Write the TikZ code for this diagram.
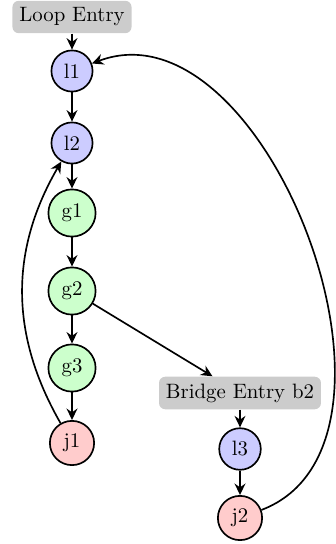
\documentclass[tikz,border=0pt]{standalone}
\usetikzlibrary{arrows.meta}
\begin{document}
\begin{tikzpicture}[x=0.4808pt,y=-0.4808pt,
  state/.style={circle,draw,thick},
  loopstate/.style={state,fill=blue!20},
  guardstate/.style={state,fill=green!20},
  joinstate/.style={state,fill=red!20},
  entry/.style={rectangle,rounded corners=3pt,fill=gray!40},
  flow/.style={thick,-{Stealth[length=5.5pt,width=5.2pt]}}]
\useasboundingbox (0,0) rectangle (335,544);

% main loop column
\node[entry]      (le) at (72,17)  {Loop Entry};
\node[loopstate]  (l1) at (72,71)  {l1};
\node[loopstate]  (l2) at (72,143) {l2};
\node[guardstate] (g1) at (72,213) {g1};
\node[guardstate] (g2) at (72,291) {g2};
\node[guardstate] (g3) at (72,368) {g3};
\node[joinstate]  (j1) at (72,443) {j1};

% bridge column
\node[entry]      (be) at (240,393) {Bridge Entry b2};
\node[loopstate]  (l3) at (240,449) {l3};
\node[joinstate]  (j2) at (240,518) {j2};

\draw[flow] (le) -- (l1);
\draw[flow] (l1) -- (l2);
\draw[flow] (l2) -- (g1);
\draw[flow] (g1) -- (g2);
\draw[flow] (g2) -- (g3);
\draw[flow] (g3) -- (j1);
\draw[flow] (g2) -- (be);
\draw[flow] (be) -- (l3);
\draw[flow] (l3) -- (j2);

% back edges
\draw[flow] (j1) to[bend left=30] (l2);
\draw[flow] (j2) to[bend right=90] (l1);
\end{tikzpicture}
\end{document}
